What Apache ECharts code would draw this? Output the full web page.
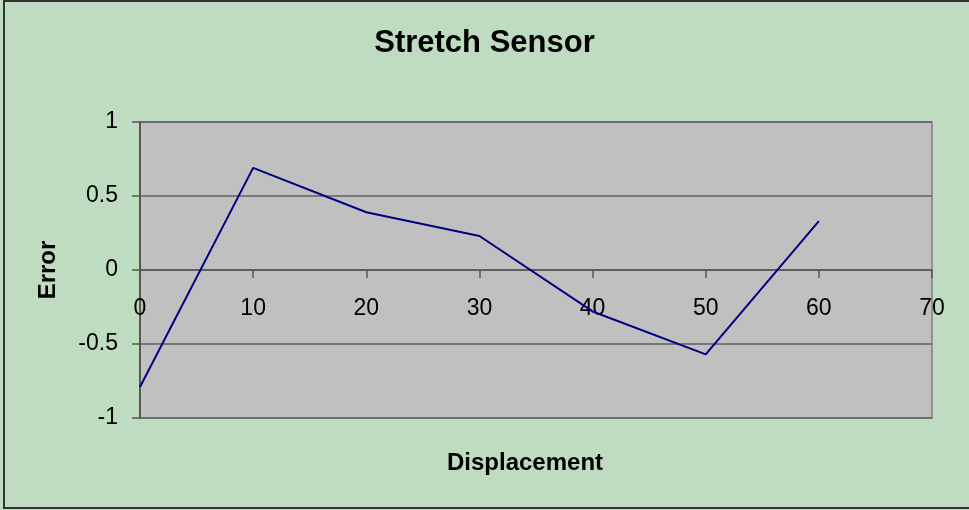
<!DOCTYPE html>
<html>
<head>
<meta charset="utf-8">
<script src="https://cdn.jsdelivr.net/npm/echarts@6/dist/echarts.min.js"></script>
<style>
  html, body { margin: 0; padding: 0; background: #C0DCC0; }
  #main { width: 969px; height: 510px; }
</style>
</head>
<body>
<div id="main"></div>
<script>
// displacement values (x) and measured error (y)
var displacement = [0, 10, 20, 30, 40, 50, 60];
var errorValues = [-0.79, 0.69, 0.39, 0.23, -0.28, -0.57, 0.33];

var chart = echarts.init(document.getElementById("main"));
var font = "'Liberation Sans', Arial, sans-serif";

chart.setOption({
  backgroundColor: "#C0DCC0",
  animation: false,
  title: {
    text: "Stretch Sensor",
    left: "center",
    top: 23,
    textStyle: { fontFamily: font, fontSize: 31, fontWeight: "bold", color: "#000" }
  },
  graphic: [
    {
      type: "rect",
      shape: { x: 4, y: 1, width: 980, height: 507 },
      style: { fill: null, stroke: "#333", lineWidth: 2 },
      silent: true
    }
  ],
  grid: {
    left: 140,
    right: 37,
    top: 122,
    bottom: 92,
    outerBoundsMode: "none",
    containLabel: false,
    show: true,
    backgroundColor: "#C0C0C0",
    borderColor: "#808080",
    borderWidth: 1.5
  },
  xAxis: {
    type: "value",
    min: 0,
    max: 70,
    interval: 10,
    // axis crosses at y = 0 (middle of the plot)
    offset: -148,
    name: "Displacement",
    nameLocation: "middle",
    nameGap: 181,
    nameMoveOverlap: false,
    nameTextStyle: { fontFamily: font, fontSize: 24, fontWeight: "bold", color: "#000", padding: [0, 22, 0, 0] },
    axisLine: { onZero: false, lineStyle: { color: "#555", width: 1.5 } },
    axisTick: { show: true, inside: false, length: 8, lineStyle: { color: "#555", width: 1.5 } },
    axisLabel: { fontFamily: font, fontSize: 23, color: "#000", margin: 27, showMaxLabel: true, showMinLabel: true },
    splitLine: { show: false }
  },
  yAxis: {
    type: "value",
    min: -1,
    max: 1,
    interval: 0.5,
    name: "Error",
    nameLocation: "middle",
    nameGap: 80,
    nameMoveOverlap: false,
    nameTextStyle: { fontFamily: font, fontSize: 24, fontWeight: "bold", color: "#000" },
    axisLine: { show: true, lineStyle: { color: "#444", width: 1.5 } },
    axisTick: { show: true, length: 8, lineStyle: { color: "#555", width: 1.5 } },
    axisLabel: { fontFamily: font, fontSize: 23, color: "#000", margin: 22 },
    splitLine: { show: true, lineStyle: { color: "#606060", width: 1.5 } }
  },
  series: [
    {
      type: "line",
      data: displacement.map(function (x, i) { return [x, errorValues[i]]; }),
      showSymbol: false,
      lineStyle: { color: "#000080", width: 2 },
      itemStyle: { color: "#000080" }
    }
  ]
});
</script>
</body>
</html>
